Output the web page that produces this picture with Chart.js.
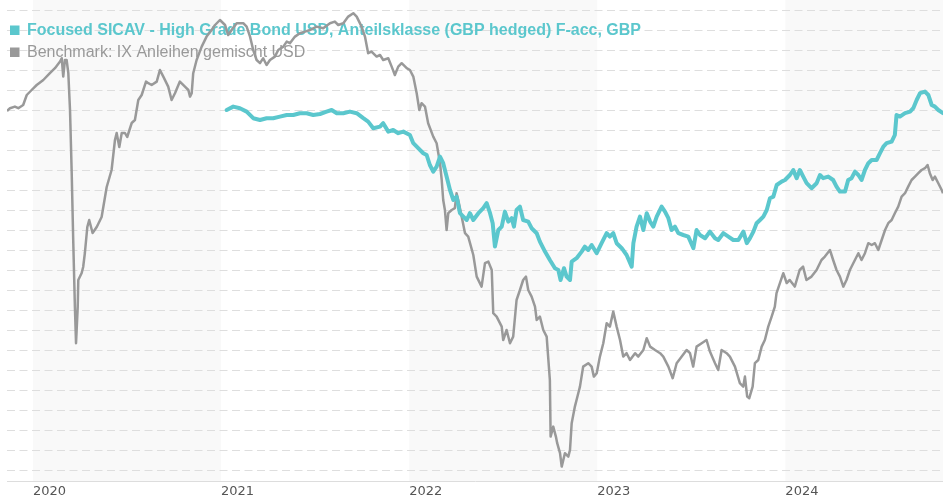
<!DOCTYPE html>
<html>
<head>
<meta charset="utf-8">
<script src="https://cdn.jsdelivr.net/npm/chart.js@4"></script>
<style>
html,body{margin:0;padding:0;background:#fff;}
#wrap{position:relative;width:943px;height:500px;}
</style>
</head>
<body>
<div id="wrap"><canvas id="c"></canvas></div>
<script>
// ---- data (x = time in years, y = indexed value) ----
const fundLabel = "Focused SICAV - High Grade Bond USD, Anteilsklasse (GBP hedged) F-acc, GBP";
const benchLabel = "Benchmark: IX Anleihen gemischt USD";
const yearTicks = [2020, 2021, 2022, 2023, 2024];
const xMin = 2019.862, xMax = 2024.838;

const benchYears = [2019.862,2019.878,2019.904,2019.922,2019.948,2019.967,2019.993,2020.020,2020.055,2020.090,2020.117,2020.144,2020.153,2020.161,2020.170,2020.179,2020.188,2020.197,2020.206,2020.214,2020.223,2020.229,2020.238,2020.241,2020.259,2020.267,2020.276,2020.289,2020.299,2020.317,2020.339,2020.365,2020.392,2020.418,2020.436,2020.445,2020.459,2020.472,2020.489,2020.501,2020.525,2020.542,2020.560,2020.578,2020.601,2020.613,2020.631,2020.658,2020.675,2020.693,2020.719,2020.737,2020.755,2020.781,2020.808,2020.826,2020.835,2020.844,2020.852,2020.870,2020.897,2020.923,2020.950,2020.968,2020.994,2021.021,2021.038,2021.056,2021.083,2021.118,2021.136,2021.154,2021.171,2021.189,2021.207,2021.224,2021.242,2021.260,2021.286,2021.304,2021.331,2021.349,2021.366,2021.393,2021.419,2021.446,2021.473,2021.508,2021.543,2021.579,2021.605,2021.623,2021.650,2021.676,2021.703,2021.721,2021.747,2021.765,2021.782,2021.800,2021.827,2021.845,2021.862,2021.889,2021.907,2021.924,2021.942,2021.960,2021.987,2022.004,2022.022,2022.040,2022.054,2022.066,2022.084,2022.101,2022.128,2022.146,2022.164,2022.173,2022.181,2022.190,2022.199,2022.208,2022.226,2022.243,2022.252,2022.261,2022.279,2022.297,2022.314,2022.341,2022.359,2022.385,2022.403,2022.421,2022.439,2022.447,2022.465,2022.492,2022.500,2022.518,2022.536,2022.553,2022.571,2022.589,2022.606,2022.621,2022.633,2022.651,2022.669,2022.678,2022.695,2022.713,2022.731,2022.748,2022.752,2022.766,2022.780,2022.787,2022.802,2022.811,2022.828,2022.846,2022.855,2022.864,2022.881,2022.899,2022.908,2022.925,2022.952,2022.970,2022.982,2022.997,2023.014,2023.032,2023.050,2023.067,2023.085,2023.103,2023.121,2023.138,2023.156,2023.174,2023.201,2023.218,2023.245,2023.263,2023.281,2023.307,2023.334,2023.351,2023.378,2023.401,2023.422,2023.449,2023.475,2023.493,2023.510,2023.528,2023.555,2023.581,2023.599,2023.626,2023.643,2023.661,2023.688,2023.705,2023.732,2023.758,2023.776,2023.785,2023.797,2023.808,2023.826,2023.838,2023.856,2023.874,2023.891,2023.909,2023.927,2023.944,2023.953,2023.971,2023.989,2024.007,2024.023,2024.050,2024.076,2024.094,2024.112,2024.139,2024.166,2024.192,2024.210,2024.237,2024.254,2024.272,2024.290,2024.308,2024.325,2024.343,2024.361,2024.388,2024.405,2024.423,2024.441,2024.459,2024.476,2024.494,2024.512,2024.530,2024.547,2024.565,2024.582,2024.600,2024.618,2024.636,2024.653,2024.671,2024.689,2024.707,2024.724,2024.742,2024.756,2024.768,2024.783,2024.795,2024.813,2024.831,2024.838];
const benchValues = [97.95,98.09,98.17,98.09,98.25,98.75,99.0,99.25,99.5,99.84,100.09,100.42,100.59,99.67,100.5,100.5,99.84,98.0,94.85,91.5,88.15,86.34,88.15,89.5,89.85,90.15,90.85,92.15,92.5,91.85,92.15,92.65,94.15,95.0,96.5,96.85,96.15,96.85,96.85,96.65,97.35,97.5,98.5,98.75,99.42,99.34,99.25,99.42,100.0,99.67,99.17,98.5,98.84,99.42,99.17,99.0,98.67,98.84,99.84,100.5,101.17,101.67,102.0,102.25,102.5,102.25,101.75,102.0,102.34,102.34,102.17,101.67,101.0,100.5,100.34,100.59,100.25,100.5,100.67,101.0,101.17,101.42,101.34,101.67,101.84,101.92,102.0,102.17,102.09,102.34,102.42,102.25,102.34,102.67,102.84,102.67,102.17,101.67,100.84,100.92,100.67,100.75,100.5,100.59,100.17,99.75,100.17,100.34,100.09,100.0,99.67,98.84,98.0,98.34,98.17,97.34,96.67,96.34,95.34,94.5,93.5,93.0,92.0,92.84,93.0,93.09,93.84,93.5,92.67,91.84,91.67,90.75,89.67,89.17,90.34,90.42,90.0,87.84,87.67,87.17,86.5,87.0,86.34,86.67,88.5,89.0,89.5,89.67,89.0,88.67,88.17,87.5,87.67,87.0,86.67,84.5,81.67,82.17,81.67,81.34,80.84,80.17,80.84,80.67,81.0,82.34,83.17,83.84,84.17,85.17,85.34,85.17,84.67,84.84,85.67,86.34,87.34,87.17,87.92,87.17,86.5,85.67,85.84,85.5,85.84,85.67,86.0,86.59,86.17,86.0,85.84,85.67,85.17,84.59,85.34,85.67,86.0,85.84,85.17,86.17,86.34,86.5,85.92,85.34,85.0,86.0,85.84,85.67,85.17,84.34,84.17,84.67,83.67,83.59,84.17,85.34,85.5,86.17,86.5,87.17,87.67,88.17,88.84,89.34,89.84,89.35,89.5,89.17,90.0,90.17,89.5,89.67,90.0,90.5,90.67,91.0,90.5,90.0,89.67,89.17,89.5,90.0,90.34,90.84,90.5,90.84,91.34,91.25,91.34,91.0,91.5,92.0,92.34,92.5,92.84,93.17,93.67,93.84,94.17,94.5,94.67,94.84,95.0,95.09,95.25,94.84,94.5,94.67,94.34,94.0,93.84];

const fundYears = [2021.030,2021.065,2021.100,2021.136,2021.171,2021.207,2021.242,2021.277,2021.313,2021.349,2021.384,2021.419,2021.455,2021.490,2021.526,2021.561,2021.588,2021.615,2021.650,2021.685,2021.721,2021.756,2021.782,2021.809,2021.845,2021.862,2021.889,2021.915,2021.942,2021.969,2022.004,2022.022,2022.048,2022.075,2022.093,2022.110,2022.128,2022.146,2022.164,2022.181,2022.199,2022.217,2022.235,2022.252,2022.270,2022.288,2022.306,2022.323,2022.341,2022.368,2022.394,2022.412,2022.430,2022.444,2022.456,2022.474,2022.492,2022.509,2022.527,2022.545,2022.557,2022.571,2022.589,2022.606,2022.633,2022.651,2022.678,2022.695,2022.722,2022.748,2022.775,2022.793,2022.805,2022.823,2022.837,2022.855,2022.864,2022.890,2022.917,2022.934,2022.952,2022.970,2022.997,2023.023,2023.050,2023.067,2023.085,2023.103,2023.130,2023.156,2023.183,2023.192,2023.209,2023.227,2023.245,2023.263,2023.281,2023.298,2023.316,2023.342,2023.360,2023.378,2023.395,2023.413,2023.431,2023.457,2023.484,2023.511,2023.528,2023.546,2023.573,2023.599,2023.626,2023.643,2023.670,2023.697,2023.723,2023.750,2023.777,2023.795,2023.812,2023.830,2023.847,2023.865,2023.883,2023.901,2023.918,2023.936,2023.954,2023.980,2023.998,2024.024,2024.042,2024.060,2024.077,2024.095,2024.113,2024.139,2024.166,2024.184,2024.201,2024.228,2024.254,2024.272,2024.290,2024.317,2024.334,2024.352,2024.370,2024.388,2024.405,2024.423,2024.441,2024.459,2024.485,2024.503,2024.521,2024.538,2024.565,2024.582,2024.591,2024.609,2024.636,2024.663,2024.680,2024.698,2024.716,2024.742,2024.760,2024.778,2024.795,2024.813,2024.838];
const fundValues = [98.0,98.17,98.09,97.92,97.59,97.5,97.59,97.59,97.67,97.75,97.75,97.84,97.84,97.75,97.8,97.92,98.0,97.84,97.84,97.92,97.84,97.59,97.42,97.09,97.17,97.34,96.92,97.0,96.84,96.92,96.75,96.34,96.09,95.84,95.75,95.25,94.92,95.17,95.67,95.34,94.67,94.0,93.5,93.67,92.84,92.67,92.5,92.84,92.5,92.84,93.09,93.34,92.84,92.34,91.17,92.0,92.17,92.92,92.42,92.59,92.17,93.0,93.17,92.5,92.42,92.09,91.84,91.42,90.92,90.5,90.09,90.0,89.5,90.09,89.67,89.5,90.42,90.59,90.92,91.17,91.0,91.25,90.84,91.34,91.84,91.67,91.84,91.34,91.09,90.75,90.17,91.34,92.17,92.67,92.0,92.84,92.42,92.17,92.67,93.17,92.92,92.59,92.0,92.17,91.84,91.75,91.67,91.09,92.0,91.75,91.59,91.92,91.59,91.5,91.84,91.67,91.5,91.5,91.92,91.34,91.59,91.92,92.34,92.5,92.67,93.0,93.59,93.67,94.25,94.42,94.5,94.75,95.0,94.59,95.0,94.67,94.34,94.09,94.34,94.75,94.59,94.67,94.5,94.17,93.92,93.92,94.5,94.59,94.92,94.75,94.5,95.0,95.34,95.5,95.5,95.84,96.17,96.34,96.42,96.75,97.75,97.67,97.84,97.92,98.09,98.5,98.84,98.92,98.75,98.25,98.17,98.0,97.84];
const yGridValues = [80,81,82,83,84,85,86,87,88,89,90,91,92,93,94,95,96,97,98,99,100,101,102,103];

const TEAL = "#5bc7cd";
const GREY = "#999999";

const toPoints = (xs, ys) => xs.map((x, i) => ({x: x, y: ys[i]}));

const yearBands = {
  id: 'yearBands',
  beforeDraw(chart) {
    const {ctx, chartArea, scales} = chart;
    const xs = scales.x;
    ctx.save();
    ctx.fillStyle = '#f9f9f9';
    for (let i = 0; i < yearTicks.length; i += 2) {
      const a = xs.getPixelForValue(yearTicks[i]);
      const b = i + 1 < yearTicks.length ? xs.getPixelForValue(yearTicks[i + 1]) : chartArea.right;
      ctx.fillRect(a, chartArea.top, Math.min(b, chartArea.right) - a, chartArea.bottom - chartArea.top);
    }
    ctx.restore();
  }
};

const overlayLegend = {
  id: 'overlayLegend',
  beforeDatasetsDraw(chart) {
    const {ctx} = chart;
    ctx.save();
    ctx.textBaseline = 'alphabetic';
    const items = [
      {text: chart.data.datasets[0].label, color: TEAL, font: 'bold 16px "Liberation Sans", Arial, sans-serif', y: 35},
      {text: chart.data.datasets[1].label, color: GREY, font: '16px "Liberation Sans", Arial, sans-serif', y: 57}
    ];
    items.forEach(it => {
      ctx.fillStyle = it.color;
      ctx.fillRect(10, it.y - 9.5, 9.5, 9.5);
      ctx.font = it.font;
      ctx.fillText(it.text, 27, it.y);
    });
    ctx.restore();
  }
};

new Chart(document.getElementById('c'), {
  type: 'line',
  data: {
    datasets: [
      {label: fundLabel, data: toPoints(fundYears, fundValues), borderColor: TEAL, backgroundColor: TEAL, borderWidth: 4, pointRadius: 0, tension: 0, borderJoinStyle: 'round', borderCapStyle: 'round'},
      {label: benchLabel, data: toPoints(benchYears, benchValues), borderColor: GREY, backgroundColor: GREY, borderWidth: 2.5, pointRadius: 0, tension: 0, borderJoinStyle: 'round'}
    ]
  },
  options: {
    responsive: true,
    maintainAspectRatio: false,
    animation: false,
    layout: {padding: {left: 7, right: 0, top: 0, bottom: 0}},
    plugins: {legend: {display: false}, tooltip: {enabled: false}},
    scales: {
      x: {
        type: 'linear',
        min: xMin,
        max: xMax,
        afterBuildTicks: s => { s.ticks = yearTicks.map(v => ({value: v})); },
        afterFit: s => { s.height = 19; },
        grid: {display: false, drawTicks: false},
        border: {display: true, color: '#dddddd', width: 1},
        ticks: {
          align: 'start',
          padding: 3,
          color: '#555555',
          font: {family: '"DejaVu Sans", Verdana, sans-serif', size: 13},
          callback: v => String(v)
        }
      },
      y: {
        type: 'linear',
        min: 79.45,
        max: 103.5,
        afterBuildTicks: s => { s.ticks = yGridValues.map(v => ({value: v})); },
        afterFit: s => { s.width = 0; },
        grid: {color: '#dedede', lineWidth: 1, drawTicks: false},
        border: {display: false, dash: [8, 4.5]},
        ticks: {display: false}
      }
    }
  },
  plugins: [yearBands, overlayLegend]
});
</script>
</body>
</html>
